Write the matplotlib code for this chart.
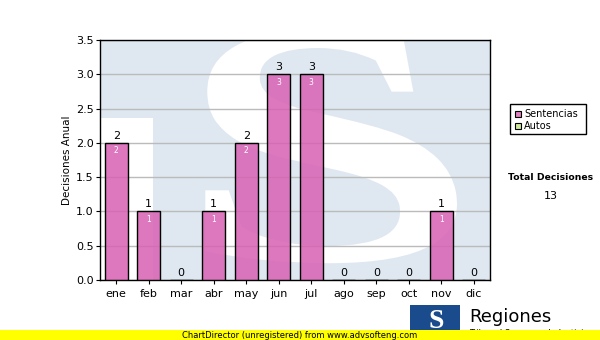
import matplotlib
matplotlib.use("Agg")
import matplotlib.pyplot as plt
import numpy as np
from matplotlib.textpath import TextPath
from matplotlib.font_manager import FontProperties
from matplotlib.patches import PathPatch, Rectangle
from matplotlib.path import Path

months = ["ene", "feb", "mar", "abr", "may", "jun", "jul", "ago", "sep", "oct", "nov", "dic"]
sentencias = [2, 1, 0, 1, 2, 3, 3, 0, 0, 0, 1, 0]
autos = [0, 0, 0, 0, 0, 0, 0, 0, 0, 0, 0, 0]
total_label = "Total Decisiones"
total_value = "13"
y_ticks = [0.0, 0.5, 1.0, 1.5, 2.0, 2.5, 3.0, 3.5]

plt.rcParams['font.family'] = ['DejaVu Sans']

fig = plt.figure(figsize=(6, 3.4), dpi=100)
ax = fig.add_axes([100/600, 1-280/340, 390/600, 240/340])

# watermark background (light blue T + block with white S)
lb = "#dfe8f1"
ax.add_patch(Rectangle((0, 0.675), 1, 0.325, transform=ax.transAxes, color=lb, zorder=0, lw=0))
ax.add_patch(Rectangle((0.136, 0), 1-0.136, 1, transform=ax.transAxes, color=lb, zorder=0, lw=0))
tp = TextPath((0, 0), "S", size=100, prop=FontProperties(family="Liberation Serif", weight="bold"))
v = tp.vertices.copy()
ext = tp.get_extents()
xn = (v[:, 0]-ext.x0)/(ext.x1-ext.x0)
yn = (v[:, 1]-ext.y0)/(ext.y1-ext.y0)
X0, W, Y0, H = 0.27, 0.68, 0.07, 0.97
v[:, 0] = X0 + xn*W*(1 - 0.18*yn)
v[:, 1] = Y0 + yn*H
ax.add_patch(PathPatch(Path(v, tp.codes), transform=ax.transAxes, color="white", lw=0, zorder=0.5))

x = np.arange(len(months))
bars = ax.bar(x, sentencias, width=0.72, color=(0.85, 0.38, 0.70, 0.85), edgecolor="black", lw=1, zorder=3)
for xi, val in zip(x, sentencias):
    ax.text(xi, val + 0.03, str(val), ha="center", va="bottom", fontsize=8, color="black", zorder=4)
    if val > 0:
        ax.text(xi, val - 0.05, str(val), ha="center", va="top", fontsize=5.5, color="white", zorder=4)

ax.set_xlim(-0.5, 11.5)
ax.set_ylim(0, 3.5)
ax.set_yticks(y_ticks)
ax.set_yticklabels([f"{t:.1f}" for t in y_ticks])
ax.set_xticks(x)
ax.set_xticklabels(months)
ax.tick_params(axis="both", labelsize=8, direction="out", length=3, color="black")
ax.tick_params(axis="y", pad=1.5)
ax.yaxis.grid(True, color="#bbbbbb", lw=1, zorder=1)
ax.set_axisbelow(True)
for s in ax.spines.values():
    s.set_color("black")
    s.set_linewidth(1)
ax.set_ylabel("Decisiones Anual", fontsize=7.5, labelpad=3)

# legend
fig.patches.append(Rectangle((510/600, 1-134/340), 76/600, 30/340, transform=fig.transFigure,
                             facecolor="white", edgecolor="black", lw=1, figure=fig))
fig.patches.append(Rectangle((515/600, 1-117/340), 6/600, 6/340, transform=fig.transFigure,
                             facecolor="#e080c0", edgecolor="black", lw=0.8, figure=fig))
fig.patches.append(Rectangle((515/600, 1-129/340), 6/600, 6/340, transform=fig.transFigure,
                             facecolor="#cce89a", edgecolor="black", lw=0.8, figure=fig))
fig.text(524/600, 1-114/340, "Sentencias", fontsize=7, va="center", ha="left")
fig.text(524/600, 1-126/340, "Autos", fontsize=7, va="center", ha="left")

fig.text(551/600, 1-177/340, total_label, fontsize=6.7, fontweight="bold", ha="center", va="center")
fig.text(551/600, 1-196/340, total_value, fontsize=8, ha="center", va="center")

# logo bottom right
fig.patches.append(Rectangle((410/600, 1-333/340), 50/600, 28/340, transform=fig.transFigure,
                             facecolor="#1a4b8c", edgecolor="none", figure=fig))
fig.text(436/600, 1-322/340, "S", fontsize=20, fontweight="bold", family="Liberation Serif",
         color="white", ha="center", va="center")
fig.text(469/600, 1-317/340, "Regiones", fontsize=13, ha="left", va="center")
fig.text(469/600, 1-334/340, "Tribunal Supremo de Justicia", fontsize=6, ha="left", va="center")

# yellow footer
fig.patches.append(Rectangle((0, 0), 1, 10/340, transform=fig.transFigure,
                             facecolor="#ffff00", edgecolor="none", figure=fig, zorder=5))
fig.text(300/600, 5/340, "ChartDirector (unregistered) from www.advsofteng.com", fontsize=6,
         ha="center", va="center", zorder=6)

fig.savefig("out.png", dpi=100)
